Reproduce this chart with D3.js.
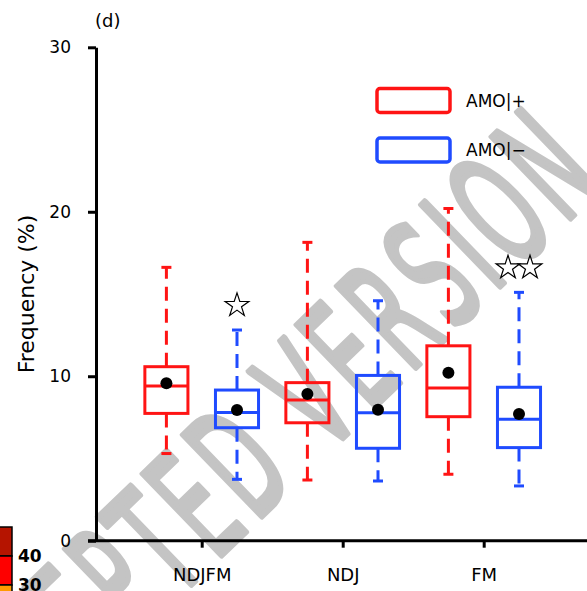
<!DOCTYPE html>
<html>
<head>
<meta charset="utf-8">
<script src="https://cdn.jsdelivr.net/npm/d3@7"></script>
<style>
  body { margin: 0; background: #fff; }
  svg { display: block; font-family: "DejaVu Sans", sans-serif; }
</style>
</head>
<body>
<svg id="chart" width="587" height="591"></svg>
<script>
// ---------- data ----------
const categories = ["NDJFM", "NDJ", "FM"];
const seriesNames = ["AMO|+", "AMO|\u2212"];
const seriesColors = ["#ff1414", "#1f4bff"];

// box stats per category: [lower whisker, q1, median, q3, upper whisker]
const amoPosStats = [
  [5.3, 7.74, 9.4, 10.58, 16.62],
  [3.69, 7.17, 8.55, 9.61, 18.14],
  [4.04, 7.54, 9.28, 11.85, 20.2]
];
const amoNegStats = [
  [3.73, 6.87, 7.8, 9.16, 12.81],
  [3.63, 5.62, 7.78, 10.05, 14.59],
  [3.33, 5.66, 7.38, 9.33, 15.1]
];
const amoPosMeans = [9.57, 8.92, 10.21];
const amoNegMeans = [7.95, 7.96, 7.7];

// number of significance stars drawn above the AMO|- box
const starCounts = [1, 0, 2];

const yTicks = [0, 10, 20, 30];

// piece of the neighbouring panel's colour bar (bottom-left corner)
const colorbarBounds = [50, 40, 30, 20];
const colorbarColors = ["#b51400", "#fe0000", "#ff9a00"];
const colorbarLabels = [40, 30];

// ---------- setup ----------
const svg = d3.select("#chart");

const y = d3.scaleLinear().domain([0, 30]).range([540.7, 47.3]);
const x = d3.scalePoint().domain(categories).range([201.7, 483.7]);
const xSub = d3.scaleBand()
  .domain(seriesNames)
  .range([-70.6, 70.6])
  .paddingInner(0.39)
  .paddingOuter(0.195);
const bw = xSub.bandwidth();

// watermark (drawn first, sits behind everything)
svg.append("text")
  .attr("transform", "translate(250,450) rotate(-44) scale(0.5,1)")
  .attr("text-anchor", "middle")
  .attr("dy", "0.36em")
  .attr("fill", "#c4c4c4")
  .attr("stroke", "#c4c4c4")
  .attr("stroke-width", 5)
  .attr("stroke-linejoin", "round")
  .attr("vector-effect", "non-scaling-stroke")
  .style("font-size", "155px")
  .style("letter-spacing", "14px")
  .text("ACCEPTED VERSION");

// colour bar fragment
const cb = d3.scaleLinear().domain([30, 40]).range([585, 556]);
svg.append("g")
  .selectAll("rect")
  .data(colorbarColors)
  .join("rect")
    .attr("x", -5)
    .attr("width", 17)
    .attr("y", (d, i) => cb(colorbarBounds[i]))
    .attr("height", (d, i) => cb(colorbarBounds[i + 1]) - cb(colorbarBounds[i]))
    .attr("fill", d => d)
    .attr("stroke", "#000")
    .attr("stroke-width", 1.5);

svg.append("g")
  .selectAll("text")
  .data(colorbarLabels)
  .join("text")
    .attr("x", 18)
    .attr("y", d => cb(d))
    .attr("dy", "0.36em")
    .style("font-size", "17px")
    .style("font-weight", "bold")
    .text(d => d);

// ---------- axes ----------
const yAxis = svg.append("g")
  .attr("transform", "translate(96,0)")
  .call(d3.axisLeft(y).tickValues(yTicks).tickSize(8).tickSizeOuter(0).tickPadding(17));

yAxis.select(".domain").attr("stroke-width", 3);
yAxis.selectAll(".tick line").attr("stroke-width", 3);
yAxis.selectAll(".tick text")
  .style("font-size", "17px")
  .style("font-family", "DejaVu Sans, sans-serif")
  .attr("fill", "#000");

const xAxis = svg.append("g")
  .attr("transform", `translate(0,${y(0)})`)
  .call(d3.axisBottom(x).tickSize(7).tickSizeOuter(0).tickPadding(21));

xAxis.select(".domain").remove();
xAxis.selectAll(".tick line").attr("stroke-width", 3);
xAxis.selectAll(".tick text")
  .style("font-size", "18px")
  .style("font-family", "DejaVu Sans, sans-serif")
  .attr("fill", "#000");

svg.append("line")
  .attr("x1", 88)
  .attr("x2", 590)
  .attr("y1", y(0))
  .attr("y2", y(0))
  .attr("stroke", "#000")
  .attr("stroke-width", 3);

svg.append("text")
  .attr("transform", "translate(33.5,294) rotate(-90)")
  .attr("text-anchor", "middle")
  .style("font-size", "22px")
  .text("Frequency (%)");

svg.append("text")
  .attr("x", 95)
  .attr("y", 27)
  .style("font-size", "18px")
  .text("(d)");

// ---------- boxes ----------
const boxData = [];
categories.forEach((cat, i) => {
  boxData.push({ cat, series: seriesNames[0], color: seriesColors[0], s: amoPosStats[i], mean: amoPosMeans[i] });
  boxData.push({ cat, series: seriesNames[1], color: seriesColors[1], s: amoNegStats[i], mean: amoNegMeans[i] });
});
const cx = d => x(d.cat) + xSub(d.series) + bw / 2;

const boxes = svg.append("g")
  .selectAll("g")
  .data(boxData)
  .join("g");

// whiskers (dashed)
boxes.append("line")
  .attr("x1", cx).attr("x2", cx)
  .attr("y1", d => y(d.s[3])).attr("y2", d => y(d.s[4]))
  .attr("stroke", d => d.color)
  .attr("stroke-width", 3)
  .attr("stroke-dasharray", "14,8");

boxes.append("line")
  .attr("x1", cx).attr("x2", cx)
  .attr("y1", d => y(d.s[1])).attr("y2", d => y(d.s[0]))
  .attr("stroke", d => d.color)
  .attr("stroke-width", 3)
  .attr("stroke-dasharray", "14,8");

// caps
[0, 4].forEach(k => {
  boxes.append("line")
    .attr("x1", d => cx(d) - 5).attr("x2", d => cx(d) + 5)
    .attr("y1", d => y(d.s[k])).attr("y2", d => y(d.s[k]))
    .attr("stroke", d => d.color)
    .attr("stroke-width", 3);
});

boxes.append("rect")
  .attr("x", d => cx(d) - bw / 2)
  .attr("width", bw)
  .attr("y", d => y(d.s[3]))
  .attr("height", d => y(d.s[1]) - y(d.s[3]))
  .attr("fill", "none")
  .attr("stroke", d => d.color)
  .attr("stroke-width", 3);

boxes.append("line")
  .attr("x1", d => cx(d) - bw / 2).attr("x2", d => cx(d) + bw / 2)
  .attr("y1", d => y(d.s[2])).attr("y2", d => y(d.s[2]))
  .attr("stroke", d => d.color)
  .attr("stroke-width", 3);

boxes.append("circle")
  .attr("cx", cx)
  .attr("cy", d => y(d.mean))
  .attr("r", 6)
  .attr("fill", "#000");

// ---------- significance stars ----------
const starData = [];
categories.forEach((cat, i) => {
  for (let k = 0; k < starCounts[i]; k++) {
    starData.push({ cat, series: seriesNames[1], k, n: starCounts[i], top: amoNegStats[i][4] });
  }
});

svg.append("g")
  .selectAll("path")
  .data(starData)
  .join("path")
    .attr("d", d3.symbol(d3.symbolStar, 175))
    .attr("transform", d => `translate(${cx(d) + (d.k - (d.n - 1) / 2) * 22},${y(d.top + 1.5)})`)
    .attr("fill", "#fff")
    .attr("stroke", "#000")
    .attr("stroke-width", 1.2);

// ---------- legend ----------
const legend = svg.append("g")
  .selectAll("g")
  .data(seriesNames)
  .join("g")
    .attr("transform", (d, i) => `translate(377,${88.5 + i * 49.5})`);

legend.append("rect")
  .attr("width", 73)
  .attr("height", 24)
  .attr("rx", 3)
  .attr("fill", "none")
  .attr("stroke", (d, i) => seriesColors[i])
  .attr("stroke-width", 3.5);

legend.append("text")
  .attr("x", 89)
  .attr("y", 12)
  .attr("dy", "0.36em")
  .style("font-size", "17px")
  .text(d => d);
</script>
</body>
</html>
